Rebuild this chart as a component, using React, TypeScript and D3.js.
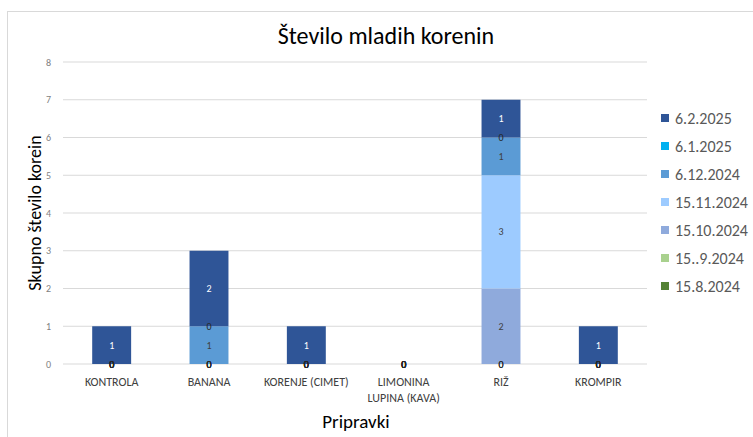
import React from 'react';
import * as d3 from 'd3';

// categories (x axis)
const categories = ['KONTROLA', 'BANANA', 'KORENJE (CIMET)', 'LIMONINA LUPINA (KAVA)', 'RIŽ', 'KROMPIR'];

// series, bottom of stack first
const seriesNames = ['15.8.2024', '15..9.2024', '15.10.2024', '15.11.2024', '6.12.2024', '6.1.2025', '6.2.2025'];
const seriesColors = ['#548235', '#A9D18E', '#8FAADC', '#9DCBFF', '#5B9BD5', '#00B0F0', '#2F5597'];

const s_15_8 = [0, 0, 0, 0, 0, 0];
const s_15_9 = [0, 0, 0, 0, 0, 0];
const s_15_10 = [0, 0, 0, 0, 2, 0];
const s_15_11 = [0, 0, 0, 0, 3, 0];
const s_6_12 = [0, 1, 0, 0, 1, 0];
const s_6_1 = [0, 0, 0, 0, 0, 0];
const s_6_2 = [1, 2, 1, 0, 1, 1];
const seriesValues = [s_15_8, s_15_9, s_15_10, s_15_11, s_6_12, s_6_1, s_6_2];

const yTicks = [0, 1, 2, 3, 4, 5, 6, 7, 8];

const font = 'Carlito, Calibri, "Liberation Sans", Arial, sans-serif';
const darkSeries = ['6.2.2025', '15.8.2024'];

export default function App() {
  const width = 753;
  const height = 437;
  const m = { left: 63, right: 106, top: 62, bottom: 73 };

  const x = d3.scaleBand().domain(categories).range([m.left, width - m.right]).paddingInner(0.6).paddingOuter(0.3);
  const y = d3.scaleLinear().domain([0, 8]).range([height - m.bottom, m.top]);

  const rows = categories.map((c, i) => {
    const r: any = { cat: c };
    seriesNames.forEach((s, j) => (r[s] = seriesValues[j][i]));
    return r;
  });
  const stacked = d3.stack().keys(seriesNames)(rows);

  return (
    <svg width={width} height={height} style={{ position: 'absolute', left: 0, top: 0, fontFamily: font }}>
      <rect x={0} y={0} width={width} height={height} fill="#fff" />
      <rect x={7.5} y={11.5} width={width} height={height} fill="none" stroke="#d9d9d9" />
      <text x={386} y={44} textAnchor="middle" fontSize={24} fill="#000">Število mladih korenin</text>

      {yTicks.map(t => (
        <g key={t}>
          <line x1={m.left} x2={width - m.right} y1={y(t)} y2={y(t)} stroke="#d9d9d9" />
          <text x={51} y={y(t)} dy="0.35em" textAnchor="end" fontSize={10} fill="#7f7f7f">{t}</text>
        </g>
      ))}

      {stacked.map((layer, j) => (
        <g key={layer.key} fill={seriesColors[j]}>
          {layer.map((d, i) => (
            d[1] - d[0] > 0 ? (
              <rect key={i} x={x(categories[i])} width={x.bandwidth()} y={y(d[1])} height={y(d[0]) - y(d[1])} />
            ) : null
          ))}
        </g>
      ))}

      {stacked.map((layer, j) => (
        <g key={'l' + layer.key}>
          {layer.map((d, i) => {
            const v = d[1] - d[0];
            const cx = (x(categories[i]) as number) + x.bandwidth() / 2;
            const cy = y((d[0] + d[1]) / 2);
            const fill = v === 0 ? '#262626' : darkSeries.includes(layer.key) ? '#fff' : '#404040';
            return (
              <text key={i} x={cx} y={cy} dy="0.35em" textAnchor="middle" fontSize={10} fill={fill}>{v}</text>
            );
          })}
        </g>
      ))}

      {categories.map(c => {
        const cx = (x(c) as number) + x.bandwidth() / 2;
        const lines = c === 'LIMONINA LUPINA (KAVA)' ? ['LIMONINA', 'LUPINA (KAVA)'] : [c];
        return (
          <text key={c} x={cx} y={386} textAnchor="middle" fontSize={12} fill="#404040">
            {lines.map((l, k) => <tspan key={k} x={cx} dy={k === 0 ? 0 : 16}>{l}</tspan>)}
          </text>
        );
      })}

      <text x={356} y={428} textAnchor="middle" fontSize={19} fill="#000">Pripravki</text>
      <text transform={`translate(41,${y(4)}) rotate(-90)`} textAnchor="middle" fontSize={18} fill="#000">Skupno število korein</text>

      {seriesNames.slice().reverse().map((s, k) => {
        const j = seriesNames.length - 1 - k;
        const ly = 118 + k * 28;
        return (
          <g key={s}>
            <rect x={661} y={ly - 4} width={8} height={8} fill={seriesColors[j]} />
            <text x={675} y={ly} dy="0.35em" fontSize={16} fill="#595959">{s}</text>
          </g>
        );
      })}
    </svg>
  );
}
